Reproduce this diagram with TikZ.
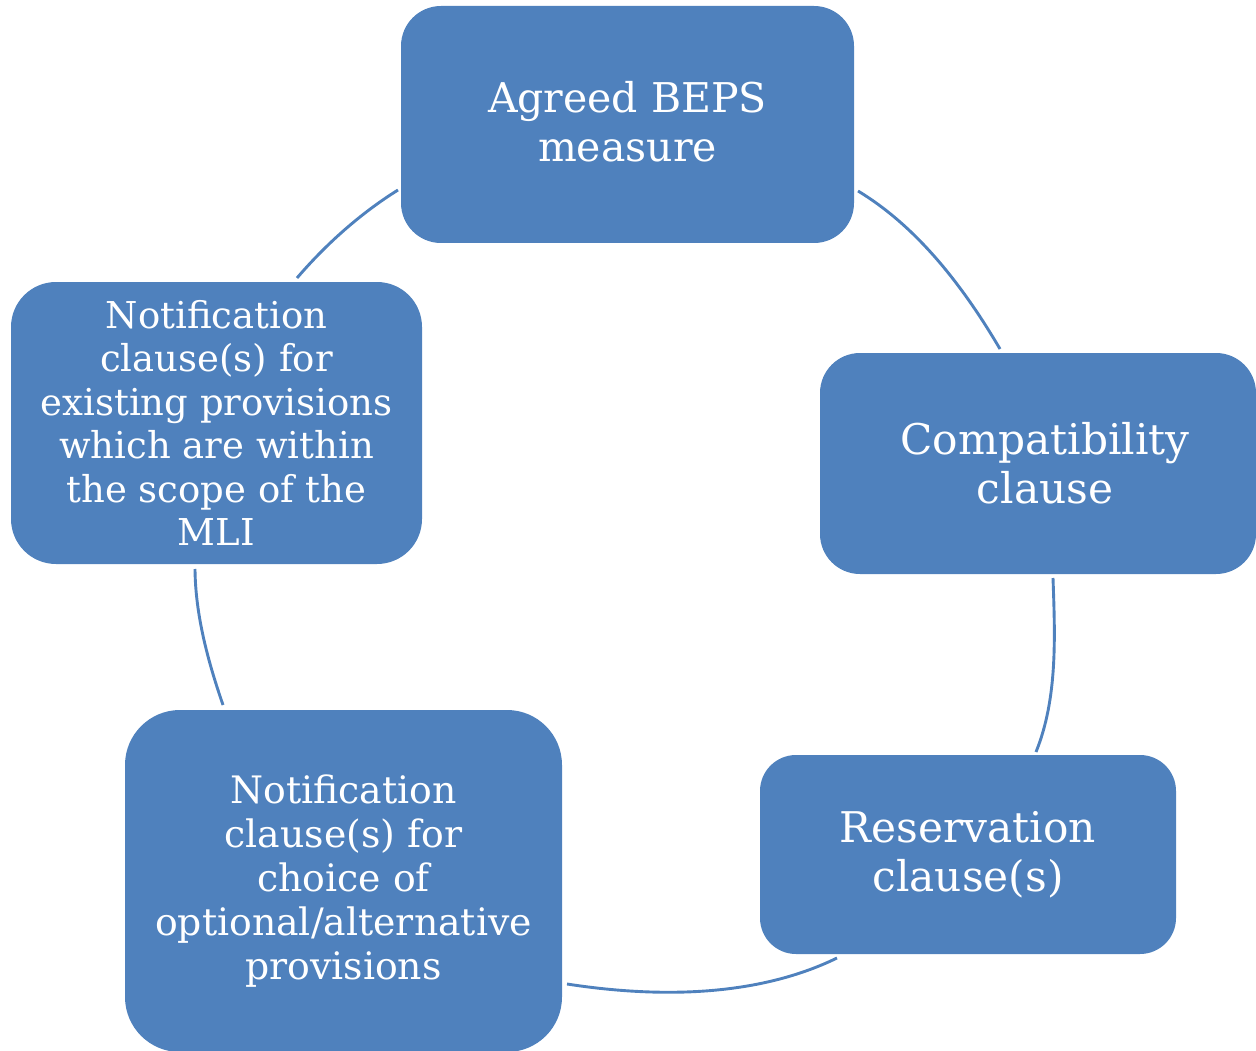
\documentclass[tikz,border=0pt]{standalone}
\usepackage{fontspec}
\setmainfont{DejaVu Serif}
\definecolor{boxblue}{HTML}{4F81BD}
\begin{document}
\begin{tikzpicture}[x=1pt,y=-1pt,
  box/.style={rectangle, rounded corners=#1, fill=boxblue, draw=none,
    text=white, align=center, inner sep=0pt},
  boxtext/.style={text=white, align=center, inner sep=0pt},
  link/.style={draw=boxblue, line width=2.9pt, looseness=0.85},
  big/.style={font=\fontsize{41}{49}\selectfont},
  bigger/.style={font=\fontsize{42.3}{49}\selectfont},
  mid/.style={font=\fontsize{37.8}{44}\selectfont},
  small/.style={font=\fontsize{37}{43.5}\selectfont}]
\useasboundingbox (0,0) rectangle (1256,1051);
\clip (0,0) rectangle (1256,1051);
\node[box=40pt, minimum width=453pt, minimum height=237pt,
  label={[boxtext, big, yshift=3pt]center:Agreed BEPS\\measure}] (agreed) at (627.5,124.5) {};
\node[box=40pt, minimum width=436pt, minimum height=221pt,
  label={[boxtext, bigger, xshift=7pt]center:Compatibility\\clause}] (compat) at (1038,463.5) {};
\node[box=36pt, bigger, minimum width=416pt, minimum height=199pt] (reserv) at (968,854.5) {Reservation\\clause(s)};
\node[box=55pt, mid, minimum width=437pt, minimum height=342pt] (choice) at (343.5,881) {Notification\\clause(s) for\\choice of\\optional/alternative\\provisions};
\node[box=45pt, small, minimum width=411pt, minimum height=282pt] (exist) at (216.5,423) {Notification\\clause(s) for\\existing provisions\\which are within\\the scope of the\\MLI};
% arc end points
\coordinate (a1) at (297,278); \coordinate (b1) at (398,190);
\coordinate (a2) at (858,191); \coordinate (b2) at (1000,349);
\coordinate (a3) at (1053,578); \coordinate (b3) at (1036,752);
\coordinate (a4) at (837,958); \coordinate (b4) at (567,984);
\coordinate (a5) at (223,705); \coordinate (b5) at (195,569);
\draw[link] (a1) to[out=49.4, in=212] (b1);
\draw[link] (a2) to[out=-31.1, in=120.4] (b2);
\draw[link] (a3) to[out=-88, in=68] (b3);
\draw[link] (a4) to[out=-154, in=-8.8] (b4);
\draw[link] (a5) to[out=109, in=270.5] (b5);
\end{tikzpicture}
\end{document}
